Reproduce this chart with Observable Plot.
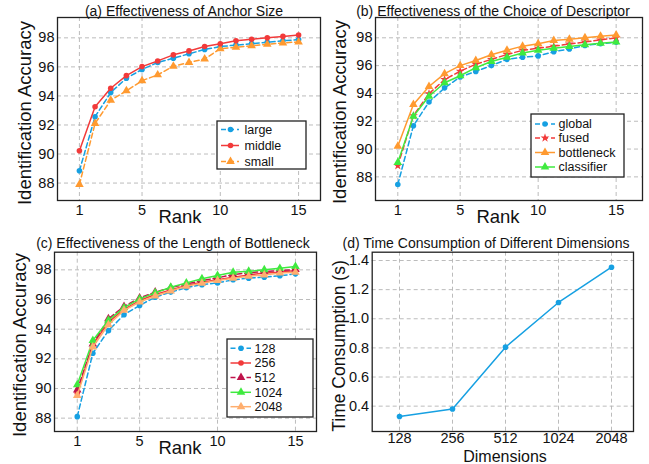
<!DOCTYPE html>
<html><head><meta charset="utf-8">
<script src="https://cdn.jsdelivr.net/npm/d3@7"></script>
<script src="https://cdn.jsdelivr.net/npm/@observablehq/plot@0.6"></script>
<style>
body{margin:0;background:#fff;font-family:"Liberation Sans",Arial,Helvetica,sans-serif;color:#111}
#root{position:relative;width:649px;height:464px;overflow:hidden;background:#fff}
.panel{position:absolute}
.panel svg{display:block}
.txt{position:absolute;white-space:nowrap;line-height:1;transform:translate(-50%,-50%)}
.rot{transform:translate(-50%,-50%) rotate(-90deg)}
.legend{position:absolute}
</style></head>
<body><div id="root"></div>
<script>
// ---------------- data ----------------
const ranks = [1,2,3,4,5,6,7,8,9,10,11,12,13,14,15];
const rankTicks = [1,5,10,15];
const accTicks = [88,90,92,94,96,98];

const anchorNames = ["large","middle","small"];
const anchorLarge  = [88.85,92.57,94.23,95.22,95.82,96.3,96.6,96.9,97.2,97.4,97.5,97.6,97.7,97.8,97.88];
const anchorMiddle = [90.23,93.26,94.53,95.4,96.02,96.41,96.83,97.1,97.4,97.59,97.8,97.9,98.0,98.1,98.2];
const anchorSmall  = [87.9,92.1,93.7,94.35,95.05,95.45,96.05,96.3,96.55,97.25,97.35,97.45,97.55,97.65,97.72];

const descNames = ["global","fused","bottleneck","classifier"];
const descGlobal     = [87.45,91.68,93.38,94.4,95.18,95.58,96.0,96.45,96.6,96.7,97.0,97.2,97.45,97.57,97.69];
const descFused      = [88.8,92.4,93.98,95.0,95.6,96.1,96.45,96.8,97.1,97.25,97.4,97.55,97.7,97.85,98.0];
const descBottleneck = [90.2,93.2,94.5,95.42,96.0,96.37,96.78,97.1,97.4,97.57,97.8,97.9,98.0,98.12,98.2];
const descClassifier = [89.03,92.35,93.8,94.77,95.27,95.85,96.3,96.6,96.9,97.1,97.25,97.38,97.5,97.6,97.69];

const lenNames = ["128","256","512","1024","2048"];
const len128  = [88.1,92.38,93.9,94.97,95.6,96.16,96.5,96.8,97.0,97.12,97.33,97.44,97.5,97.6,97.73];
const len256  = [89.7,92.97,94.47,95.33,95.93,96.34,96.65,96.94,97.17,97.33,97.5,97.66,97.78,97.84,97.95];
const len512  = [89.9,93.0,94.7,95.53,96.1,96.5,96.8,97.05,97.28,97.46,97.68,97.8,97.89,97.95,98.02];
const len1024 = [90.25,93.24,94.6,95.45,96.04,96.45,96.83,97.12,97.4,97.62,97.84,97.9,98.0,98.1,98.22];
const len2048 = [89.53,92.8,94.3,95.27,95.83,96.24,96.57,96.9,97.1,97.28,97.44,97.57,97.66,97.78,97.84];

const dims = ["128","256","512","1024","2048"];
const timeCost = [0.329,0.38,0.805,1.112,1.354];
const timeTicks = [0.4,0.6,0.8,1.0,1.2,1.4];

// ---------------- styles ----------------
const BLUE="#16a0e2", RED="#f23a3a", ORANGE="#ff9a30", GREEN="#3fea3f", MAROON="#c0144c", LORANGE="#ffae6e";
const GRID="#b4b4b4";
const FONT='"Liberation Sans", Arial, Helvetica, sans-serif';
const root = document.getElementById("root");

function place(node, left, top){
  const d=document.createElement("div"); d.className="panel";
  d.style.left=left+"px"; d.style.top=top+"px";
  d.appendChild(node); root.appendChild(d); return d;
}
function label(text, x, y, size, rot){
  const d=document.createElement("div"); d.className="txt"+(rot?" rot":"");
  d.textContent=text; d.style.left=x+"px"; d.style.top=y+"px"; d.style.fontSize=size+"px";
  root.appendChild(d);
}

function panel(cfg){
  const marks=[
    Plot.gridX(cfg.xTicks,{stroke:GRID,strokeOpacity:1,strokeDasharray:"4,3",strokeWidth:0.9}),
    Plot.gridY(cfg.yTicks,{stroke:GRID,strokeOpacity:1,strokeDasharray:"4,3",strokeWidth:0.9}),
    Plot.axisX(cfg.xTicks,{tickSize:0,tickPadding:cfg.xPad ?? 4,fontSize:14.5,label:null,fill:"#111"}),
    Plot.axisY(cfg.yTicks,{tickSize:0,tickPadding:3,fontSize:14.5,label:null,fill:"#111",tickFormat:cfg.yFormat})
  ];
  for(const s of cfg.series){
    const data=cfg.x.map((x,i)=>({x,y:s.values[i]}));
    marks.push(Plot.line(data,{x:"x",y:"y",stroke:s.color,strokeWidth:1.5,strokeDasharray:s.dash?"5,3":null}));
    marks.push(Plot.dot(data,{x:"x",y:"y",symbol:s.symbol,r:s.r,fill:s.color,stroke:"none"}));
  }
  marks.push(Plot.frame({stroke:"#222",strokeWidth:1.3}));
  const svg=Plot.plot({
    width:cfg.w,height:cfg.h,
    marginLeft:cfg.m[0],marginTop:cfg.m[1],marginRight:cfg.m[2],marginBottom:cfg.m[3],
    x:cfg.xScale, y:{domain:cfg.yDomain},
    style:{fontFamily:FONT,background:"transparent",overflow:"visible",color:"#111"},
    marks
  });
  place(svg,cfg.left,cfg.top).style.width=cfg.w+"px";
}

function legend(cfg){
  const svg=d3.create("svg").attr("width",cfg.w+4).attr("height",cfg.h+4)
    .style("position","absolute").style("left",(cfg.left-2)+"px").style("top",(cfg.top-2)+"px")
    .style("font-family",FONT).style("overflow","visible");
  svg.append("rect").attr("x",2).attr("y",2).attr("width",cfg.w).attr("height",cfg.h)
    .attr("fill","#fff").attr("stroke","#222").attr("stroke-width",1.3);
  cfg.series.forEach((s,i)=>{
    const y=2+cfg.rows[i];
    svg.append("line").attr("x1",2+cfg.lx[0]).attr("x2",2+cfg.lx[1]).attr("y1",y).attr("y2",y)
      .attr("stroke",s.color).attr("stroke-width",1.5).attr("stroke-dasharray",s.dash?"5,3":null);
    const type={circle:d3.symbolCircle,triangle:d3.symbolTriangle,star:d3.symbolStar}[s.symbol];
    svg.append("path").attr("d",d3.symbol(type,s.r*s.r*Math.PI)())
      .attr("transform",`translate(${2+cfg.mx},${y})`).attr("fill",s.color);
    svg.append("text").attr("x",2+cfg.tx).attr("y",y).attr("dy","0.35em")
      .attr("font-size",12.5).attr("fill","#111").text(s.name);
  });
  root.appendChild(svg.node());
}

// ---------------- panel (a) ----------------
const seriesA=[
  {name:anchorNames[0],values:anchorLarge,color:BLUE,dash:true,symbol:"circle",r:2.8},
  {name:anchorNames[2],values:anchorSmall,color:ORANGE,dash:true,symbol:"triangle",r:3.2},
  {name:anchorNames[1],values:anchorMiddle,color:RED,dash:false,symbol:"circle",r:2.8}
];
panel({left:0,top:0,w:325,h:232,m:[57,17,5,32],x:ranks,xTicks:rankTicks,yTicks:accTicks,
  xScale:{domain:[-0.4,16.4]},yDomain:[86.8,99.4],series:seriesA});
legend({left:217,top:121,w:89,h:48,rows:[8.5,24.5,40.5],lx:[4,22],mx:13.5,tx:27.5,
  series:[seriesA[0],seriesA[2],seriesA[1]]});
label("(a) Effectiveness of Anchor Size",184,11,14);
label("Identification Accuracy",25,113,18.5,true);
label("Rank",180,217,18.5);

// ---------------- panel (b) ----------------
const seriesB=[
  {name:descNames[0],values:descGlobal,color:BLUE,dash:true,symbol:"circle",r:2.8},
  {name:descNames[1],values:descFused,color:RED,dash:true,symbol:"star",r:2.8},
  {name:descNames[2],values:descBottleneck,color:ORANGE,dash:false,symbol:"triangle",r:3.2},
  {name:descNames[3],values:descClassifier,color:GREEN,dash:false,symbol:"triangle",r:3.2}
];
panel({left:320,top:0,w:329,h:232,m:[55,17,7,32],x:ranks,xTicks:rankTicks,yTicks:accTicks,
  xScale:{domain:[-0.43,16.69]},yDomain:[86.3,99.46],series:seriesB});
legend({left:531,top:113.5,w:93,h:63,rows:[10,24,38.5,53],lx:[4,24],mx:14,tx:27.5,series:seriesB});
label("(b) Effectiveness of the Choice of Descriptor",493,11,14);
label("Identification Accuracy",340,112,18.5,true);
label("Rank",498,217,18.5);

// ---------------- panel (c) ----------------
const seriesC=[
  {name:lenNames[0],values:len128,color:BLUE,dash:true,symbol:"circle",r:2.8},
  {name:lenNames[1],values:len256,color:RED,dash:false,symbol:"circle",r:2.8},
  {name:lenNames[2],values:len512,color:MAROON,dash:true,symbol:"triangle",r:3.2},
  {name:lenNames[3],values:len1024,color:GREEN,dash:false,symbol:"triangle",r:3.2},
  {name:lenNames[4],values:len2048,color:LORANGE,dash:false,symbol:"triangle",r:3.2}
];
panel({left:0,top:230,w:325,h:234,m:[54,21.7,9,33],x:ranks,xTicks:rankTicks,yTicks:accTicks,
  xScale:{domain:[-0.46,16.35]},yDomain:[87.1,99.19],series:seriesC});
legend({left:226.7,top:338.5,w:86,h:78,rows:[9.3,24,38.5,53.3,67.7],lx:[3.5,24],mx:14,tx:27.5,series:seriesC});
label("(c) Effectiveness of the Length of Bottleneck",173,242.7,14);
label("Identification Accuracy",20,345,18.5,true);
label("Rank",180,448,18.5);

// ---------------- panel (d) ----------------
panel({left:320,top:230,w:329,h:234,m:[51.7,21.7,16,33],x:dims,xTicks:dims,yTicks:timeTicks,yFormat:".1f",xPad:1.5,
  xScale:{type:"point",domain:dims,padding:0.424,align:0.55},yDomain:[0.226,1.457],
  series:[{name:"time",values:timeCost,color:BLUE,dash:false,symbol:"circle",r:2.8}]});
label("(d) Time Consumption of Different Dimensions",486,242.7,14);
label("Time Consumption (s)",340,346,17.5,true);
label("Dimensions",505,456.5,16);
</script>
</body></html>
